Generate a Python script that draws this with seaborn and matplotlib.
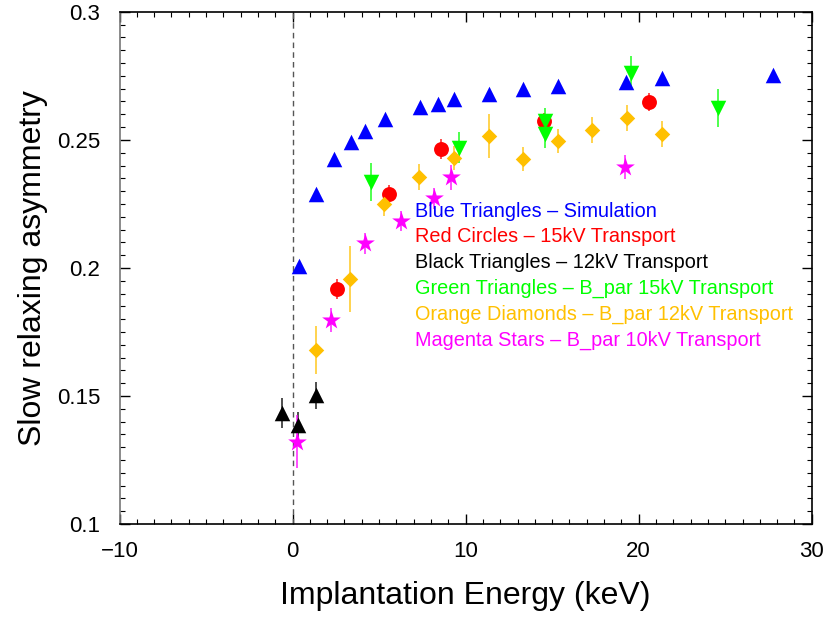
import numpy as np
import pandas as pd
import seaborn as sns
import matplotlib
matplotlib.use('Agg')
import matplotlib.pyplot as plt
import matplotlib.ticker as mticker

# %%
# values (energy in keV, asymmetry, error)
blue_x = [0.40, 1.37, 2.39, 3.35, 4.18, 5.35, 7.35, 8.39, 9.34, 11.34, 13.34, 15.34, 19.25, 21.33, 27.75]
blue_y = [0.2009, 0.2289, 0.2425, 0.2491, 0.2535, 0.2582, 0.2630, 0.2641, 0.2659, 0.2679, 0.2699, 0.2711, 0.2728, 0.2741, 0.2754]

red_x = [2.56, 5.60, 8.57, 14.55, 20.61]
red_y = [0.1917, 0.2288, 0.2464, 0.2572, 0.2647]
red_err = [0.0039, 0.0035, 0.0038, 0.0035, 0.0035]

black_x = [-0.63, 0.34, 1.36]
black_y = [0.1434, 0.1388, 0.1502]
black_err = [0.0060, 0.0050, 0.0054]

green_x = [4.52, 9.59, 14.57, 14.57, 19.54, 24.60]
green_y = [0.2337, 0.2470, 0.2574, 0.2523, 0.2760, 0.2625]
green_err = [0.0074, 0.0060, 0.0052, 0.0056, 0.0067, 0.0073]

orange_x = [1.35, 3.33, 5.31, 7.33, 9.34, 11.36, 13.34, 15.34, 17.32, 19.32, 21.33]
orange_y = [0.1680, 0.1957, 0.2250, 0.2354, 0.2429, 0.2516, 0.2426, 0.2496, 0.2539, 0.2585, 0.2523]
orange_err = [0.0094, 0.0130, 0.0047, 0.0050, 0.0047, 0.0085, 0.0047, 0.0047, 0.0050, 0.0050, 0.0050]

magenta_x = [0.25, 2.22, 4.20, 6.26, 8.20, 9.18, 19.19]
magenta_y = [0.1321, 0.1797, 0.2096, 0.2183, 0.2272, 0.2354, 0.2396]
magenta_err = [0.0104, 0.0047, 0.0040, 0.0040, 0.0040, 0.0049, 0.0047]

labels = [
    'Blue Triangles \u2013 Simulation',
    'Red Circles \u2013 15kV Transport',
    'Black Triangles \u2013 12kV Transport',
    'Green Triangles \u2013 B_par 15kV Transport',
    'Orange Diamonds \u2013 B_par 12kV Transport',
    'Magenta Stars \u2013 B_par 10kV Transport',
]

# %%
sns.set_theme(style='ticks')
plt.rcParams['font.family'] = ['Liberation Sans', 'DejaVu Sans']

fig = plt.figure(figsize=(8.3, 6.25), dpi=100)
ax = fig.add_axes([0.144, 0.1616, 0.834, 0.8194])

series = [
    (blue_x, blue_y, None, '#0000ff', '^', 125),
    (red_x, red_y, red_err, '#ff0000', 'o', 115),
    (black_x, black_y, black_err, '#000000', '^', 125),
    (green_x, green_y, green_err, '#00ff00', 'v', 125),
    (orange_x, orange_y, orange_err, '#ffc000', 'D', 62),
    (magenta_x, magenta_y, magenta_err, '#ff00ff', '*', 200),
]

for xs, ys, errs, col, mk, sz in series:
    if errs is not None:
        ax.errorbar(xs, ys, yerr=errs, fmt='none', ecolor=col, elinewidth=1.3, alpha=0.75, zorder=2)
    sns.scatterplot(x=xs, y=ys, color=col, marker=mk, s=sz, linewidth=0, ax=ax, zorder=3)

ax.axvline(0, color='#555555', linestyle=(0, (4, 3)), linewidth=1.0, zorder=1)

# colored text block in place of a legend
text_colors = ['#0000ff', '#ff0000', '#000000', '#00ff00', '#ffc000', '#ff00ff']
for i, (lab, col) in enumerate(zip(labels, text_colors)):
    ax.text(7.1, 0.2222 - i * 0.0101, lab, color=col, fontsize=14.3, va='center', ha='left')

ax.set_xlim(-10, 30)
ax.set_ylim(0.1, 0.3)
ax.xaxis.set_major_locator(mticker.MultipleLocator(10))
ax.xaxis.set_minor_locator(mticker.MultipleLocator(1))
ax.yaxis.set_major_locator(mticker.MultipleLocator(0.05))
ax.yaxis.set_minor_locator(mticker.MultipleLocator(0.005))
ax.yaxis.set_major_formatter(mticker.FuncFormatter(lambda v, p: ('%.2f' % v).rstrip('0')))

ax.tick_params(which='both', direction='in', top=True, right=True, color='black',
               labelcolor='black', labelsize=16)
ax.tick_params(axis='y', pad=14)
ax.tick_params(axis='x', pad=12)
ax.tick_params(which='major', length=7, width=1)
ax.tick_params(which='minor', length=3.5, width=0.8)

for s in ax.spines.values():
    s.set_color('black')
    s.set_linewidth(1.2)
ax.spines['left'].set_color('#777777')

ax.set_xlabel('Implantation Energy (keV)', fontsize=23, labelpad=14, color='black')
ax.set_ylabel('Slow relaxing asymmetry', fontsize=23, labelpad=6, color='black')

plt.savefig('out.png', dpi=100)
